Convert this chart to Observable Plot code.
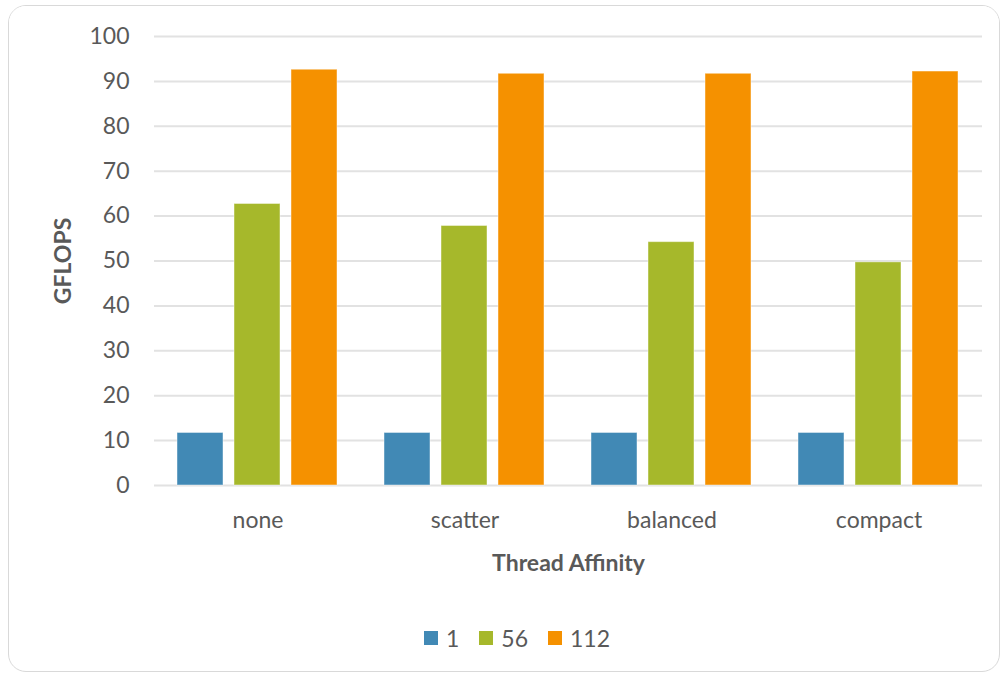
<!DOCTYPE html>
<html>
<head>
<meta charset="utf-8">
<script src="https://cdn.jsdelivr.net/npm/d3@7"></script>
<script src="https://cdn.jsdelivr.net/npm/@observablehq/plot@0.6"></script>
<style>
  body { margin: 0; background: #fff; font-family: Lato, "Open Sans", sans-serif; }
  #box { position: absolute; left: 8px; top: 5px; width: 992px; height: 667px; box-sizing: border-box;
         border: 1px solid #d9d9d9; border-radius: 18px; background: #fff; overflow: hidden; }
  #chart svg { display: block; }
  #chart g[aria-label$="axis label"] text, #chart g[aria-label$="axis label"] { font-weight: bold; }
  #legend { display: flex; justify-content: center; align-items: center; gap: 0; margin-top: 38px; padding-left: 26px;
            font-size: 23px; color: #595959; font-family: Lato, sans-serif; }
  #legend .item { display: flex; align-items: center; margin: 0 10px; }
  #legend .sw { width: 14px; height: 14px; margin-right: 8px; }
</style>
</head>
<body>
<div id="box"><div id="chart"></div><div id="legend"></div></div>
<script>
const categories = ["none", "scatter", "balanced", "compact"];
const series = ["1", "56", "112"];
const values1 = [11.7, 11.7, 11.7, 11.7];
const values56 = [62.7, 57.8, 54.2, 49.7];
const values112 = [92.6, 91.7, 91.7, 92.2];
const yTicks = [0, 10, 20, 30, 40, 50, 60, 70, 80, 90, 100];
const colors = ["#4189b5", "#a6b82b", "#f59100"];

const seriesValues = [values1, values56, values112];
const data = [];
categories.forEach((c, i) => {
  series.forEach((s, j) => data.push({category: c, series: s, value: seriesValues[j][i]}));
});

const chart = Plot.plot({
  width: 990,
  height: 580,
  marginLeft: 143,
  marginRight: 16,
  marginTop: 30,
  marginBottom: 101,
  style: {fontFamily: "Lato, 'Open Sans', sans-serif", fontSize: "23px", color: "#595959", background: "#fff", overflow: "visible"},
  fx: {domain: categories, padding: 0},
  x: {domain: series, paddingInner: 0.19, paddingOuter: 0.395, axis: null},
  y: {domain: [0, 100], axis: null},
  color: {domain: series, range: colors},
  marks: [
    Plot.ruleY(yTicks, {stroke: "#e2e2e2", strokeWidth: 2}),
    Plot.barY(data, {fx: "category", x: "series", y: "value", fill: "series", stroke: "#ffffff", strokeOpacity: 0.45, strokeWidth: 1}),
    Plot.axisY(yTicks, {tickSize: 0, tickPadding: 25, label: "GFLOPS", labelArrow: "none", labelAnchor: "center", labelOffset: 100, fontSize: 23}),
    Plot.axisFx({anchor: "bottom", tickSize: 0, tickPadding: 26, label: "Thread Affinity", labelArrow: "none", labelAnchor: "center", labelOffset: 85, fontSize: 23})
  ]
});
document.getElementById("chart").appendChild(chart);

const legend = document.getElementById("legend");
series.forEach((s, i) => {
  const item = document.createElement("div");
  item.className = "item";
  const sw = document.createElement("div");
  sw.className = "sw";
  sw.style.background = chart.scale("color").apply(s);
  item.appendChild(sw);
  const t = document.createElement("span");
  t.textContent = s;
  item.appendChild(t);
  legend.appendChild(item);
});
</script>
</body>
</html>
